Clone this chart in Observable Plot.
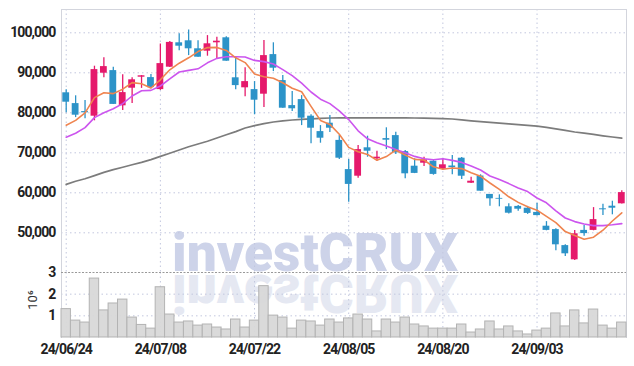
<!DOCTYPE html>
<html><head><meta charset="utf-8">
<script src="https://cdn.jsdelivr.net/npm/d3@7"></script>
<script src="https://cdn.jsdelivr.net/npm/@observablehq/plot@0.6"></script>
<style>
body{margin:0;background:#fff;}
#chart{width:634px;height:366px;position:relative;overflow:hidden;}
#chart svg{display:block;overflow:visible;background:transparent;}
</style></head><body><div id="chart"></div>
<script>
const dates = ["24/06/24","24/06/25","24/06/26","24/06/27","24/06/28",
"24/07/01","24/07/02","24/07/03","24/07/04","24/07/05",
"24/07/08","24/07/09","24/07/10","24/07/11","24/07/12",
"24/07/15","24/07/16","24/07/17","24/07/18","24/07/19",
"24/07/22","24/07/23","24/07/24","24/07/25","24/07/26",
"24/07/29","24/07/30","24/07/31","24/08/01","24/08/02",
"24/08/05","24/08/06","24/08/07","24/08/08","24/08/09",
"24/08/12","24/08/13","24/08/14","24/08/16","24/08/19",
"24/08/20","24/08/21","24/08/22","24/08/23","24/08/26",
"24/08/27","24/08/28","24/08/29","24/08/30","24/09/02",
"24/09/03","24/09/04","24/09/05","24/09/06","24/09/09",
"24/09/10","24/09/11","24/09/12","24/09/13","24/09/19"];
const open = [85000,82300,80300,79150,89900,90550,81750,86150,88900,88800,
85800,91400,97500,98000,96000,95400,97500,98750,88750,86250,
85800,84650,94550,88050,81800,83300,79150,75300,77400,73100,
65800,64150,71250,68500,73550,74300,70300,66650,67400,67900,
65900,66700,68650,62400,64200,59600,58600,56500,56600,56150,
55100,51650,50800,46800,43250,50600,50600,56000,56650,57250];
const high = [85750,84250,83100,91650,93750,91400,89500,88750,89300,89600,
97200,97800,99750,100700,98000,99300,98900,99000,93900,91250,
87800,98100,97500,89300,85300,84300,79500,76800,79300,74300,
68300,71800,74150,70400,76250,75150,70600,68500,68900,68100,
68500,69300,68800,63900,64500,59600,59500,57250,56800,56600,
57400,52800,51000,47000,50600,51800,56300,57150,57900,60500];
const low = [80000,78800,78500,78000,88750,82100,80550,82300,86100,86000,
85600,91300,95500,94300,93900,94150,93500,92900,85750,84000,
79500,81300,90300,81150,80300,76800,72250,72400,75050,68300,
57650,63650,68900,67900,70800,69600,63500,64800,66600,64400,
65800,64500,63300,62300,60400,56650,56500,54700,55400,54600,
54200,50500,45500,44100,43100,49150,50500,54300,54500,57200];
const close = [82650,79400,80000,90800,91550,82100,85050,88250,89250,86300,
92300,97600,96650,96000,93900,97250,97900,92900,86800,87800,
83150,94300,91150,81150,81000,78650,76150,73650,76150,68650,
62100,70800,70400,68900,73150,70000,64750,64850,68250,64600,
67000,66300,64150,62900,60400,58500,58400,54900,55900,54850,
54300,50600,47000,44750,49750,49800,53300,55750,56150,60050];
// volume in millions of shares
const volume = [1.31,0.78,0.69,2.72,1.25,1.57,1.75,0.92,0.58,0.41,
2.32,1.06,0.69,0.74,0.55,0.60,0.46,0.37,0.83,0.46,
0.78,2.37,1.01,0.92,0.41,0.78,0.74,0.55,0.83,0.69,
0.88,1.06,0.83,0.28,0.83,0.69,0.92,0.60,0.51,0.41,
0.41,0.41,0.60,0.23,0.37,0.74,0.37,0.51,0.28,0.14,
0.32,0.41,1.11,0.51,1.25,0.65,1.29,0.55,0.41,0.69];
const ma5 = [76900,78100,80000,83800,85000,84800,85900,87550,87250,86200,
88250,90750,92400,93750,95300,96300,96350,95600,93750,92550,
89700,89000,88650,87500,86150,85250,81600,78100,77100,74650,
71350,70250,69600,68150,69050,70650,69450,68350,68200,66500,
65900,66200,66050,65000,64150,62450,60850,59000,57600,56500,
55650,54100,52550,50300,49300,48400,48900,50650,52950,55000];
const ma10 = [73900,74900,76300,78800,80000,81000,82300,84200,85500,85600,
86700,88500,90200,90600,91000,92500,93600,94000,94000,93950,
93100,92800,92200,90800,89300,87400,85200,83400,82300,80500,
78300,75500,73500,72500,71700,70800,70000,69100,68500,68250,
68500,68100,67600,66700,65700,64200,63300,62300,61200,60300,
58700,57500,55500,53700,52800,52200,51800,51800,52000,52300];
const ma60 = [62100,62900,63500,64300,65100,65800,66400,67000,67600,68300,
69100,69900,70700,71500,72200,72900,73700,74500,75300,76200,
76800,77300,77700,78000,78200,78350,78500,78600,78700,78750,
78750,78750,78750,78750,78750,78750,78750,78700,78650,78600,
78550,78450,78250,78000,77800,77600,77400,77250,77050,76850,
76650,76350,76000,75600,75200,74900,74600,74250,73950,73650];
const priceTicks = [50000,60000,70000,80000,90000,100000];
const volTicks = [1,2,3];
const dateTicks = ["24/06/24","24/07/08","24/07/22","24/08/05","24/08/20","24/09/03"];

const rows = dates.map((d,i)=>({date:d, open:open[i], high:high[i], low:low[i], close:close[i],
  vol:volume[i], ma5:ma5[i], ma10:ma10[i], ma60:ma60[i], col: close[i] >= open[i] ? "#e5196b" : "#2c93c8"}));

const font = "Roboto, sans-serif";
const gridColor = "#c2c7de";
const frameColor = "#d3d5dd";
const baseStyle = {fontFamily:font, fontSize:"14px", color:"#222", background:"transparent", overflow:"visible", letterSpacing:"-0.9px"};

const price = Plot.plot({
  width:634, height:273, marginLeft:61, marginRight:8, marginTop:9, marginBottom:0,
  style: baseStyle,
  x:{type:"band", domain:dates, padding:0, round:false, axis:null},
  y:{domain:[39825,105825], axis:null},
  color:{type:"identity"},
  marks:[
    Plot.gridY(priceTicks,{stroke:gridColor, strokeOpacity:1, strokeDasharray:"1.5,3"}),
    Plot.gridX(dateTicks,{stroke:gridColor, strokeOpacity:1, strokeDasharray:"1.5,3"}),
    Plot.frame({anchor:"top", stroke:frameColor}),
    Plot.frame({anchor:"left", stroke:frameColor}),
    Plot.frame({anchor:"right", stroke:frameColor}),
    Plot.axisY(priceTicks,{tickSize:0, tickPadding:6, tickFormat:d3.format(","), fontWeight:"bold", fontSize:14, label:null}),
    Plot.line(rows,{x:"date", y:"ma60", stroke:"#7c7c7c", strokeWidth:1.7}),
    Plot.ruleX(rows,{x:"date", y1:"low", y2:"high", stroke:"col", strokeWidth:1.3}),
    Plot.barY(rows,{x:"date", y1:"open", y2:"close", fill:"col", insetLeft:1.3, insetRight:1.3}),
    Plot.line(rows,{x:"date", y:"ma10", stroke:"#cc55ee", strokeWidth:1.6}),
    Plot.line(rows,{x:"date", y:"ma5", stroke:"#ef844f", strokeWidth:1.6})
  ]
});

const vol = Plot.plot({
  width:634, height:106, marginLeft:61, marginRight:8, marginTop:12, marginBottom:29,
  style: baseStyle,
  x:{type:"band", domain:dates, padding:0, round:false, axis:null},
  y:{domain:[0,3], axis:null},
  marks:[
    Plot.gridY([1,2],{stroke:gridColor, strokeOpacity:1, strokeDasharray:"1.5,3"}),
    Plot.gridX(dateTicks,{stroke:gridColor, strokeOpacity:1, strokeDasharray:"1.5,3"}),
    Plot.frame({anchor:"left", stroke:frameColor}),
    Plot.frame({anchor:"right", stroke:frameColor}),
    Plot.barY(rows,{x:"date", y:"vol", fill:"#d8d8d8", fillOpacity:0.95, stroke:"#b3b3b3", strokeWidth:1}),
    Plot.ruleY([3],{stroke:"#999", strokeDasharray:"2,1.5"}),
    Plot.axisY(volTicks,{tickSize:0, tickPadding:6, fontWeight:"bold", fontSize:14, label:null}),
    Plot.axisX(dateTicks,{tickSize:0, tickPadding:7, fontWeight:"bold", fontSize:14, label:null})
  ]
});

const chart = document.getElementById("chart");
chart.appendChild(price);
vol.style.marginTop = "-13px";
chart.appendChild(vol);

// watermark and its reflection
const wm = "investCRUX";
d3.select(price).insert("text", "g")
  .attr("x", 172).attr("y", 271).attr("text-anchor", "start")
  .attr("textLength", 286).attr("lengthAdjust", "spacingAndGlyphs")
  .style("font-family", "Roboto, sans-serif").style("font-weight", "900").style("font-size", "54px")
  .style("letter-spacing", "0px")
  .attr("fill", "#cdd3e9").text(wm);
d3.select(vol).insert("text", "g")
  .attr("x", 172).attr("y", 12).attr("text-anchor", "start")
  .attr("transform", "translate(0,27) scale(1,-1)")
  .attr("textLength", 286).attr("lengthAdjust", "spacingAndGlyphs")
  .style("font-family", "Roboto, sans-serif").style("font-weight", "900").style("font-size", "54px")
  .style("letter-spacing", "0px")
  .attr("fill", "#e5e8f2").text(wm);
// volume unit label
d3.select(vol).append("text")
  .attr("transform", "translate(37,40) rotate(-90)")
  .attr("text-anchor", "middle")
  .style("font-family", "Roboto, sans-serif").style("font-size", "13px").style("letter-spacing", "0px")
  .attr("fill", "#333")
  .text("10⁶");
</script></body></html>
